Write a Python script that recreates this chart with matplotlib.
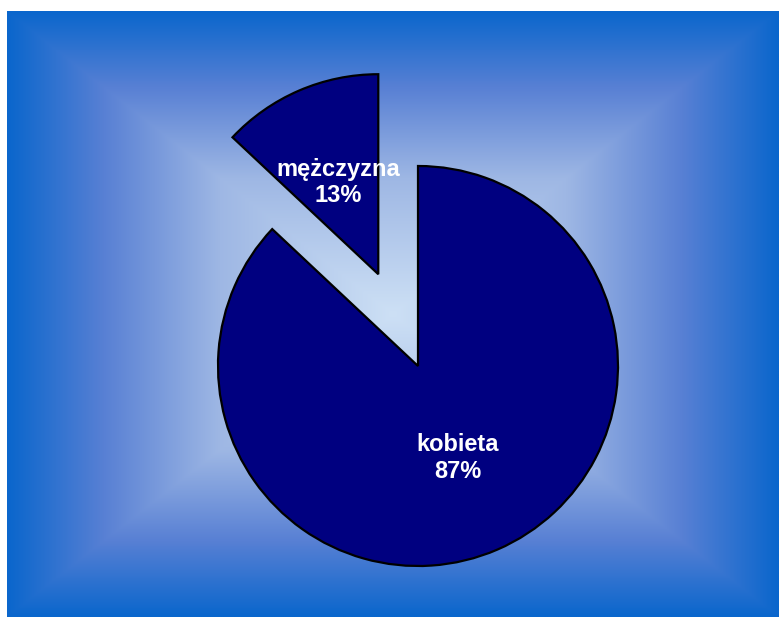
import numpy as np
import matplotlib
matplotlib.use("Agg")
import matplotlib.pyplot as plt

categories = ["kobieta", "mężczyzna"]
values = [87, 13]
explode = [0, 0.5]

W, H = 779, 617
R = 200
fig = plt.figure(figsize=(W / 100, H / 100), dpi=100)
fig.patch.set_facecolor("white")

# Rectangular (box) gradient background panel
bx0, bx1, by0, by1 = 7, 779, 0, 606
bg = fig.add_axes([bx0 / W, by0 / H, (bx1 - bx0) / W, (by1 - by0) / H])
bg.set_axis_off()
nx, ny = 500, 400
xs = np.linspace(-1, 1, nx)
ys = np.linspace(-1, 1, ny)
X, Y = np.meshgrid(xs, ys)
t = np.maximum(np.abs(X), np.abs(Y))
stops_t = [0.0, 0.45, 0.75, 1.0]
stops_c = np.array([
    [205, 224, 245],
    [158, 183, 228],
    [88, 128, 212],
    [10, 102, 204],
]) / 255
img = np.stack([np.interp(t, stops_t, stops_c[:, k]) for k in range(3)], axis=-1)
bg.imshow(img, aspect="auto", extent=[0, 1, 0, 1], interpolation="bilinear")

ax = fig.add_axes([0, 0, 1, 1])
ax.set_axis_off()
ax.patch.set_alpha(0)

names = iter(categories)


def fmt(pct):
    return f"{next(names)}\n{pct:.0f}%"


wedges, texts, autotexts = ax.pie(
    values,
    explode=[e * R for e in explode],
    startangle=90,
    counterclock=False,
    center=(418, H - 366),
    radius=R,
    colors=["#000080", "#000080"],
    wedgeprops=dict(edgecolor="black", linewidth=1.6),
    autopct=fmt,
    pctdistance=0.5,
    frame=True,
)
ax.set_xlim(0, W)
ax.set_ylim(0, H)
ax.set_aspect("equal")
ax.set_axis_off()
for t_ in autotexts:
    t_.set_color("white")
    t_.set_fontweight("bold")
    t_.set_fontsize(17)
    t_.set_family("Liberation Sans")
    t_.set_linespacing(1.2)
    t_.set_ha("center")
    t_.set_va("center")

fig.savefig("out.png", dpi=100)
